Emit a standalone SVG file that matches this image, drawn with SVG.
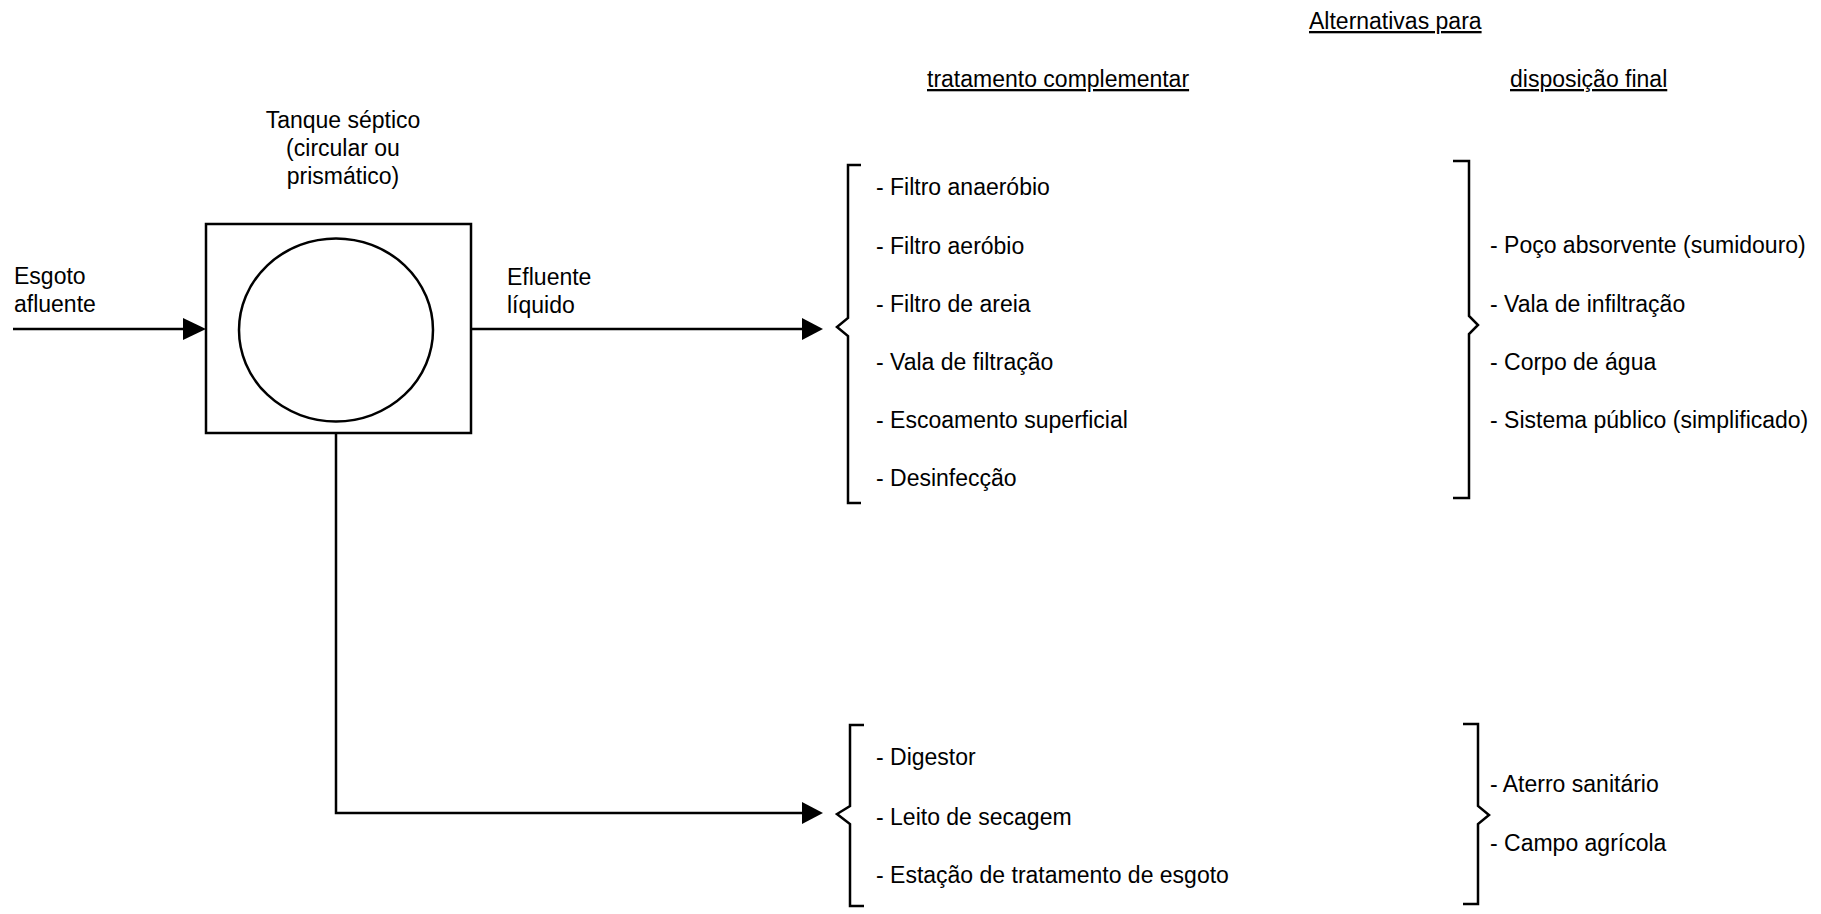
<svg xmlns="http://www.w3.org/2000/svg" width="1821" height="914" viewBox="0 0 1821 914">
<style>
text{font-family:"Liberation Sans",Arial,sans-serif;font-size:23px;fill:#000}
.u{text-decoration:underline}
.ln{fill:none;stroke:#000;stroke-width:2.5}
.ah{fill:#000;stroke:none}
</style>
<rect width="1821" height="914" fill="#fff"/>
<g id="headers">
<text class="u" x="1309" y="29">Alternativas para</text>
<text class="u" x="927" y="87">tratamento complementar</text>
<text class="u" x="1510" y="87">disposição final</text>
</g>
<g id="tanque">
<rect class="ln" x="206" y="224" width="265" height="209"/>
<ellipse class="ln" cx="336" cy="330" rx="97" ry="91.5"/>
<text x="343" y="128" text-anchor="middle">Tanque séptico</text>
<text x="343" y="156" text-anchor="middle">(circular ou</text>
<text x="343" y="184" text-anchor="middle">prismático)</text>
</g>
<g id="esgoto">
<text x="14" y="284">Esgoto</text>
<text x="14" y="312">afluente</text>
</g>
<g id="efluente">
<text x="507" y="285">Efluente</text>
<text x="507" y="313">líquido</text>
</g>
<g id="connectors">
<path class="ln" d="M13,329 H186"/>
<polygon class="ah" points="183,318 206,329 183,340"/>
<path class="ln" d="M471,329 H805"/>
<polygon class="ah" points="802,318 823,329 802,340"/>
<path class="ln" d="M336,433 V813 H805"/>
<polygon class="ah" points="802,802 823,813 802,824"/>
</g>
<g id="tratamento-liquido">
<path class="ln" d="M861,165 H848 V318 L837,327 L848,336 V503 H861"/>
<text x="876" y="195">- Filtro anaeróbio</text>
<text x="876" y="254">- Filtro aeróbio</text>
<text x="876" y="312">- Filtro de areia</text>
<text x="876" y="370">- Vala de filtração</text>
<text x="876" y="428">- Escoamento superficial</text>
<text x="876" y="486">- Desinfecção</text>
</g>
<g id="disposicao-liquido">
<path class="ln" d="M1453,161 H1469 V316 L1478,325 L1469,334 V498 H1453"/>
<text x="1490" y="253">- Poço absorvente (sumidouro)</text>
<text x="1490" y="312">- Vala de infiltração</text>
<text x="1490" y="370">- Corpo de água</text>
<text x="1490" y="428">- Sistema público (simplificado)</text>
</g>
<g id="tratamento-lodo">
<path class="ln" d="M864,725 H850 V806 L837,814 L850,824 V906 H864"/>
<text x="876" y="765">- Digestor</text>
<text x="876" y="825">- Leito de secagem</text>
<text x="876" y="883">- Estação de tratamento de esgoto</text>
</g>
<g id="disposicao-lodo">
<path class="ln" d="M1463,724 H1478 V806 L1489,815 L1478,824 V904 H1463"/>
<text x="1490" y="792">- Aterro sanitário</text>
<text x="1490" y="851">- Campo agrícola</text>
</g>
</svg>
